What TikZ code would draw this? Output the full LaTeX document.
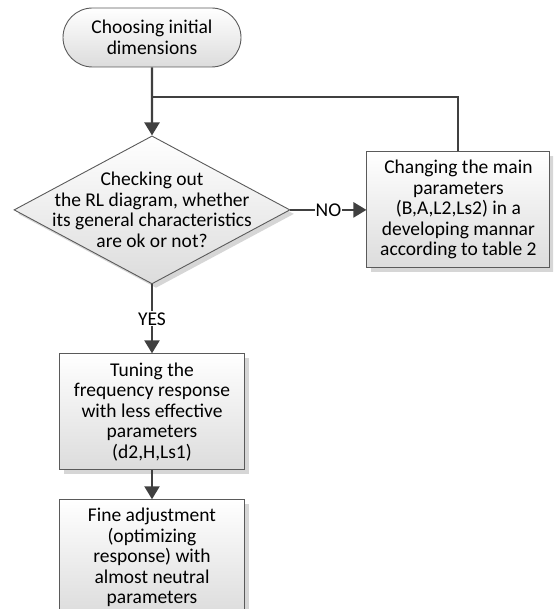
\documentclass[tikz,border=0pt]{standalone}
\usepackage{fontspec}
\setmainfont{Carlito}
\usetikzlibrary{arrows.meta, positioning, shapes.misc, shapes.geometric, shadows}
\definecolor{linegray}{HTML}{404040}
\definecolor{edgegray}{HTML}{5A5A5A}
\definecolor{fillbot}{HTML}{DCDCDC}
\tikzset{%
	base/.style={draw=edgegray, line width=0.9pt, top color=white, bottom color=fillbot,%
		font=\fontsize{19.5}{20.5}\selectfont, align=center, inner sep=4pt},
	shade/.style={drop shadow={shadow xshift=4pt, shadow yshift=-4pt, fill=black!16, opacity=1}},
	term/.style={base, rounded rectangle, minimum width=186pt, minimum height=59pt},
	proc/.style={base, shade, rectangle, minimum height=116pt},
	decide/.style={base, shade, diamond, minimum width=276pt, minimum height=148pt, inner sep=0pt},
	flow/.style={draw=linegray, line width=2.4pt, -{Triangle[width=15pt,length=13pt]}},
	back/.style={draw=linegray, line width=2pt},
	lbl/.style={fill=white, inner sep=1pt, font=\fontsize{19.5}{20.5}\selectfont}
}
\begin{document}
\begin{tikzpicture}
	\path[use as bounding box, clip] (0pt,0pt) rectangle (553pt,-609pt);
	\node[term] (start) at (152pt,-37.5pt) {Choosing initial\\dimensions};
	\coordinate[below=30pt of start] (join);
	\node[decide, below=68pt of start] (dec) {};
	\node[align=center, font=\fontsize{19.5}{20.5}\selectfont] (dectext) at (dec)
		{Checking out\\the RL diagram, whether\\its general characteristics\\are ok or not?};
	\node[proc, minimum width=183pt, right=76pt of dec] (change)
		{Changing the main\\parameters\\(B,A,L2,Ls2) in a\\developing mannar\\according to table 2};
	\node[proc, minimum width=185pt, below=69pt of dec] (tune)
		{Tuning the\\frequency response\\with less effective\\parameters\\(d2,H,Ls1)};
	\node[proc, minimum width=185pt, below=29pt of tune] (fine)
		{Fine adjustment\\(optimizing\\response) with\\almost neutral\\parameters};
	
	\draw[flow] (start) -- (dec);
	\draw[back] (change.north) |- (join);
	\draw[flow] (dec.east) -- node[lbl]{NO} (change.west);
	\draw[flow] (dec.south) -- node[lbl]{YES} (tune.north);
	\draw[flow] (tune) -- (fine);
\end{tikzpicture}
\end{document}
